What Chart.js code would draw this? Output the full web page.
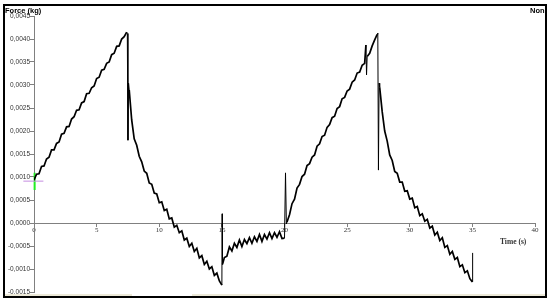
<!DOCTYPE html>
<html>
<head>
<meta charset="utf-8">
<script src="https://cdn.jsdelivr.net/npm/chart.js@4.4.1/dist/chart.umd.min.js"></script>
<style>
  body { margin: 0; background: #fff; }
  #wrap { position: relative; width: 550px; height: 302px; overflow: hidden; }
  #frame { position: absolute; left: 3px; top: 4px; width: 540px; height: 290px; border: 2px solid #000; overflow: hidden; pointer-events: none; }
  #strip { position: absolute; left: 0; right: 0; bottom: 0; height: 2px; background: #ece9d8; }
  #strip2 { position: absolute; left: 127px; width: 60px; bottom: 0; height: 2px; background: #fff; }
  .lbl { position: absolute; font-family: "Liberation Sans", Arial, sans-serif; font-weight: bold; font-size: 7.5px; color: #000; white-space: nowrap; }
  #tlabel { position: absolute; left: 500px; top: 237px; font-family: "Liberation Serif", serif; font-weight: bold; font-size: 7.5px; color: #333; }
</style>
</head>
<body>
<div id="wrap">
  <canvas id="chart" width="550" height="302"></canvas>
  <div id="tlabel">Time (s)</div>
  <div id="frame">
    <div class="lbl" style="left:0px; top:0px;">Force (kg)</div>
    <div class="lbl" style="left:525px; top:0px;">Non</div>
    <div id="strip"></div>
    <div id="strip2"></div>
  </div>
</div>
<script>
// tick values
const xTicks = [0, 5, 10, 15, 20, 25, 30, 35, 40]
const yTicks = [-0.0015, -0.0010, -0.0005, 0, 0.0005, 0.0010, 0.0015, 0.0020, 0.0025, 0.0030, 0.0035, 0.0040, 0.0045]

// first ramp up
const time1 = [0, 0.2, 0.4, 0.6, 0.8, 1.0, 1.2, 1.4, 1.6, 1.8, 2.0, 2.2, 2.4, 2.6, 2.8, 3.0, 3.2, 3.4, 3.6, 3.8,
  4.0, 4.2, 4.4, 4.6, 4.8, 5.0, 5.2, 5.4, 5.6, 5.8, 6.0, 6.2, 6.4, 6.6, 6.8, 7.0, 7.2, 7.4, 7.45, 7.5, 7.55]
const force1 = [0.00093, 0.00106, 0.00107, 0.00123, 0.00124, 0.00139, 0.00143, 0.00159, 0.00159, 0.00173,
  0.00176, 0.00193, 0.00195, 0.00209, 0.00210, 0.00226, 0.00231, 0.00245, 0.00246, 0.00261,
  0.00264, 0.00281, 0.00282, 0.00294, 0.00298, 0.00314, 0.00317, 0.00332, 0.00334, 0.00347,
  0.00350, 0.00366, 0.00369, 0.00384, 0.00385, 0.00400, 0.00405, 0.00415, 0.00412, 0.00180, 0.00304]

// first relaxation
const time2 = [7.6, 7.8, 8.0, 8.2, 8.4, 8.6, 8.8, 9.0, 9.2, 9.4, 9.6, 9.8, 10.0, 10.2, 10.4, 10.6, 10.8, 11.0, 11.2, 11.4,
  11.6, 11.8, 12.0, 12.2, 12.4, 12.6, 12.8, 13.0, 13.2, 13.4, 13.6, 13.8, 14.0, 14.2, 14.4, 14.6, 14.8, 15.0, 15.02, 15.05]
const force2 = [0.00290, 0.00224, 0.00183, 0.00169, 0.00145, 0.00133, 0.00113, 0.00108, 0.00087, 0.00084,
  0.00065, 0.00063, 0.00044, 0.00046, 0.00027, 0.00030, 0.00009, 0.00011, -0.00009, -0.00005,
  -0.00021, -0.00017, -0.00037, -0.00033, -0.00051, -0.00044, -0.00062, -0.00055, -0.00076, -0.00071,
  -0.00090, -0.00083, -0.00100, -0.00095, -0.00114, -0.00109, -0.00126, -0.00135, 0.00020, -0.00090]

// recovery
const time3 = [15.2, 15.4, 15.6, 15.8, 16.0, 16.2, 16.4, 16.6, 16.8, 17.0, 17.2, 17.4, 17.6, 17.8, 18.0, 18.2, 18.4,
  18.6, 18.8, 19.0, 19.2, 19.4, 19.6, 19.8, 20.0, 20.08, 20.15]
const force3 = [-0.00075, -0.00072, -0.00052, -0.00061, -0.00044, -0.00053, -0.00037, -0.00051, -0.00036, -0.00045,
  -0.00032, -0.00044, -0.00030, -0.00040, -0.00025, -0.00040, -0.00025, -0.00035, -0.00021, -0.00034,
  -0.00021, -0.00031, -0.00019, -0.00034, -0.00033, 0.00109, -0.00002]

// second ramp up
const time4 = [20.2, 20.4, 20.6, 20.8, 21.0, 21.2, 21.4, 21.6, 21.8, 22.0, 22.2, 22.4, 22.6, 22.8, 23.0, 23.2, 23.4,
  23.6, 23.8, 24.0, 24.2, 24.4, 24.6, 24.8, 25.0, 25.2, 25.4, 25.6, 25.8, 26.0, 26.2, 26.4, 26.5, 26.55, 26.6,
  26.8, 27.0, 27.2, 27.4, 27.45, 27.5, 27.55]
const force4 = [0.00002, 0.00018, 0.00042, 0.00052, 0.00076, 0.00084, 0.00101, 0.00106, 0.00125, 0.00129,
  0.00143, 0.00148, 0.00167, 0.00172, 0.00188, 0.00191, 0.00208, 0.00214, 0.00229, 0.00232,
  0.00249, 0.00253, 0.00270, 0.00273, 0.00287, 0.00291, 0.00306, 0.00311, 0.00326, 0.00328,
  0.00343, 0.00347, 0.00387, 0.00322, 0.00362, 0.00369, 0.00385, 0.00398, 0.00410, 0.00413, 0.00115, 0.00304]

// second relaxation
const time5 = [27.6, 27.8, 28.0, 28.2, 28.4, 28.6, 28.8, 29.0, 29.2, 29.4, 29.6, 29.8, 30.0, 30.2, 30.4, 30.6, 30.8,
  31.0, 31.2, 31.4, 31.6, 31.8, 32.0, 32.2, 32.4, 32.6, 32.8, 33.0, 33.2, 33.4, 33.6, 33.8, 34.0, 34.2, 34.4,
  34.6, 34.8, 35.0, 35.02]
const force5 = [0.00295, 0.00242, 0.00200, 0.00178, 0.00148, 0.00136, 0.00112, 0.00108, 0.00089, 0.00089,
  0.00069, 0.00070, 0.00052, 0.00054, 0.00033, 0.00036, 0.00016, 0.00020, 0.00004, 0.00008,
  -0.00011, -0.00007, -0.00026, -0.00020, -0.00038, -0.00032, -0.00053, -0.00049, -0.00068, -0.00062,
  -0.00079, -0.00075, -0.00095, -0.00091, -0.00108, -0.00104, -0.00121, -0.00128, -0.00065]

// cursor marks near the start
const cursorVTime = [0.05, 0.05]
const cursorVForce = [0.00109, 0.00072]
const cursorHTime = [-0.85, 0.75]
const cursorHForce = [0.00091, 0.00091]

function pts(t, f) {
  return t.map((v, i) => ({ x: v, y: f[i] }))
}

const trace = [].concat(
  pts(time1, force1), pts(time2, force2), pts(time3, force3), pts(time4, force4), pts(time5, force5)
)

function fmtY(v) {
  if (Math.abs(v) < 1e-9) return '0,0000'
  return v.toFixed(4).replace('.', ',')
}

// the quick spikes are drawn thin, like in the original trace
function segWidth(c) {
  return (c.p1.parsed.x - c.p0.parsed.x) < 0.1 ? 1 : 1.7
}

var ctx = document.getElementById('chart').getContext('2d')
var chart = new Chart(ctx, {
  type: 'scatter',
  data: {
    datasets: [
      { data: trace, showLine: true, borderColor: '#000', borderWidth: 1.7, pointRadius: 0, tension: 0,
        segment: { borderWidth: segWidth } },
      { data: pts(cursorHTime, cursorHForce), showLine: true, borderColor: '#c58be0', borderWidth: 1, pointRadius: 0, clip: false },
      { data: pts(cursorVTime, cursorVForce), showLine: true, borderColor: '#22ee22', borderWidth: 2, pointRadius: 0, clip: false }
    ]
  },
  options: {
    responsive: false,
    animation: false,
    devicePixelRatio: 1,
    layout: { padding: { top: 16, bottom: 10, right: 15, left: 0 } },
    plugins: { legend: { display: false }, tooltip: { enabled: false } },
    scales: {
      x: {
        type: 'linear',
        position: { y: 0 },
        min: 0, max: 40,
        afterBuildTicks: s => { s.ticks = xTicks.map(v => ({ value: v })) },
        grid: { drawOnChartArea: false, drawTicks: true, tickLength: 3, color: '#808080' },
        border: { color: '#808080', width: 1 },
        ticks: {
          padding: 0, maxRotation: 0, autoSkip: false, color: '#333',
          font: { family: 'Liberation Serif', size: 7 }
        }
      },
      y: {
        type: 'linear',
        position: 'left',
        min: -0.0015, max: 0.0045,
        afterBuildTicks: s => { s.ticks = yTicks.map(v => ({ value: v })) },
        afterFit: s => { s.width = 34 },
        grid: { drawOnChartArea: false, drawTicks: true, tickLength: 4, color: '#808080' },
        border: { color: '#808080', width: 1 },
        ticks: {
          padding: 0, autoSkip: false, color: '#333',
          font: { family: 'Liberation Sans', size: 6.5 },
          callback: v => fmtY(v)
        }
      }
    }
  }
})
</script>
</body>
</html>
